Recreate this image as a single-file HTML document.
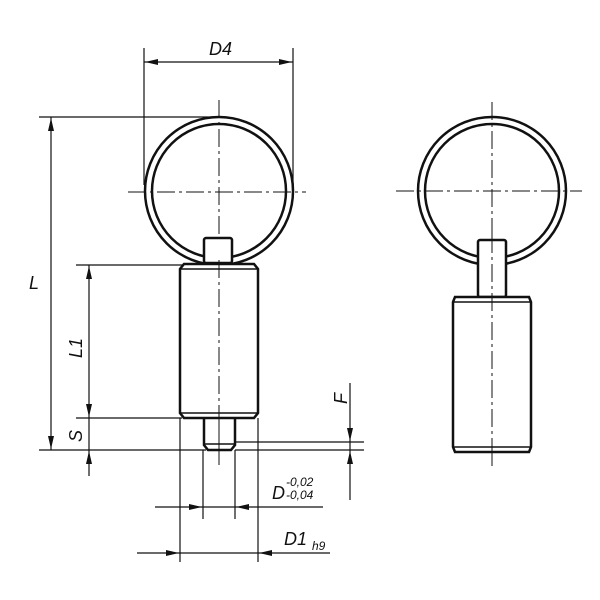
<!DOCTYPE html>
<html><head><style>body{margin:0;background:#fff}svg{display:block}text{font-family:"Liberation Sans",sans-serif;font-style:italic;fill:#111}</style></head><body>
<svg width="600" height="600" viewBox="0 0 600 600" xmlns="http://www.w3.org/2000/svg">
<g stroke="#111" fill="none">
<g stroke-width="1" stroke-dasharray="18,4,3,4">
<line x1="219" y1="100" x2="219" y2="465"/>
<line x1="128" y1="192" x2="306" y2="192"/>
<line x1="492" y1="102" x2="492" y2="466"/>
<line x1="396" y1="191" x2="582" y2="191"/>
</g>
<g stroke-width="2.5">
<circle cx="219" cy="191" r="74"/>
<circle cx="219" cy="191" r="67"/>
<rect x="204" y="238" width="28" height="25" fill="#fff" rx="2"/>
<path d="M184,264 L254,264 L258,269 L258,413 L254,418 L184,418 L180,413 L180,269Z" fill="#fff"/>
<path d="M180,269 L258,269 M180,413 L258,413" stroke-width="1.5"/>
<path d="M204,418 L204,445 L208,450 L231,450 L235,445 L235,418"/>
<path d="M205,444 L234,444" stroke-width="1.5"/>
<circle cx="492" cy="191" r="74"/>
<circle cx="492" cy="191" r="67"/>
<rect x="478" y="240" width="28" height="57" fill="#fff" rx="2"/>
<path d="M455,297 L529,297 L531,302 L531,447 L529,452 L455,452 L453,447 L453,302Z" fill="#fff"/>
<path d="M453,302 L531,302 M453,447 L531,447" stroke-width="1.5"/>
</g>
<line x1="219" y1="260" x2="219" y2="460" stroke-width="1" stroke-dasharray="18,4,3,4"/>
<line x1="492" y1="235" x2="492" y2="466" stroke-width="1" stroke-dasharray="18,4,3,4"/>
<g stroke-width="1.2">
<line x1="144" y1="48" x2="144" y2="185"/><line x1="293" y1="48" x2="293" y2="185"/>
<line x1="144" y1="62" x2="293" y2="62"/>
<line x1="39" y1="117" x2="219" y2="117"/>
<line x1="76" y1="265" x2="182" y2="265"/>
<line x1="76" y1="418" x2="182" y2="418"/>
<line x1="39" y1="450" x2="206" y2="450"/>
<line x1="235" y1="442" x2="364" y2="442"/><line x1="235" y1="450" x2="364" y2="450"/>
<line x1="51" y1="117" x2="51" y2="450"/>
<line x1="89" y1="265" x2="89" y2="476"/>
<line x1="350" y1="383" x2="350" y2="500"/>
<line x1="203" y1="450" x2="203" y2="519"/><line x1="235" y1="450" x2="235" y2="519"/>
<line x1="155" y1="507" x2="323" y2="507"/>
<line x1="180" y1="418" x2="180" y2="562"/><line x1="258" y1="418" x2="258" y2="562"/>
<line x1="137" y1="553" x2="330" y2="553"/>
</g>
</g>
<g fill="#111">
<polygon points="145,62 158,59 158,65"/><polygon points="292,62 279,59 279,65"/>
<polygon points="51,118 48,131 54,131"/><polygon points="51,449 48,436 54,436"/>
<polygon points="89,266 86,279 92,279"/><polygon points="89,417 86,404 92,404"/>
<polygon points="89,451 86,464 92,464"/>
<polygon points="350,441 347,428 353,428"/><polygon points="350,451 347,464 353,464"/>
<polygon points="202,507 189,504 189,510"/><polygon points="236,507 249,504 249,510"/>
<polygon points="179,553 166,550 166,556"/><polygon points="259,553 272,550 272,556"/>
</g>
<text x="209" y="55" font-size="18">D4</text>
<text x="29" y="289" font-size="18">L</text>
<text x="0" y="0" font-size="18" transform="translate(82,358) rotate(-90)">L1</text>
<text x="0" y="0" font-size="18" transform="translate(82,442) rotate(-90)">S</text>
<text x="0" y="0" font-size="18" transform="translate(347,404) rotate(-90)">F</text>
<text x="272" y="499" font-size="18">D</text>
<text x="286" y="486" font-size="12">-0,02</text>
<text x="286" y="499" font-size="12">-0,04</text>
<text x="284" y="545" font-size="18">D1</text>
<text x="312" y="550" font-size="12">h9</text>
</svg>
</body></html>
